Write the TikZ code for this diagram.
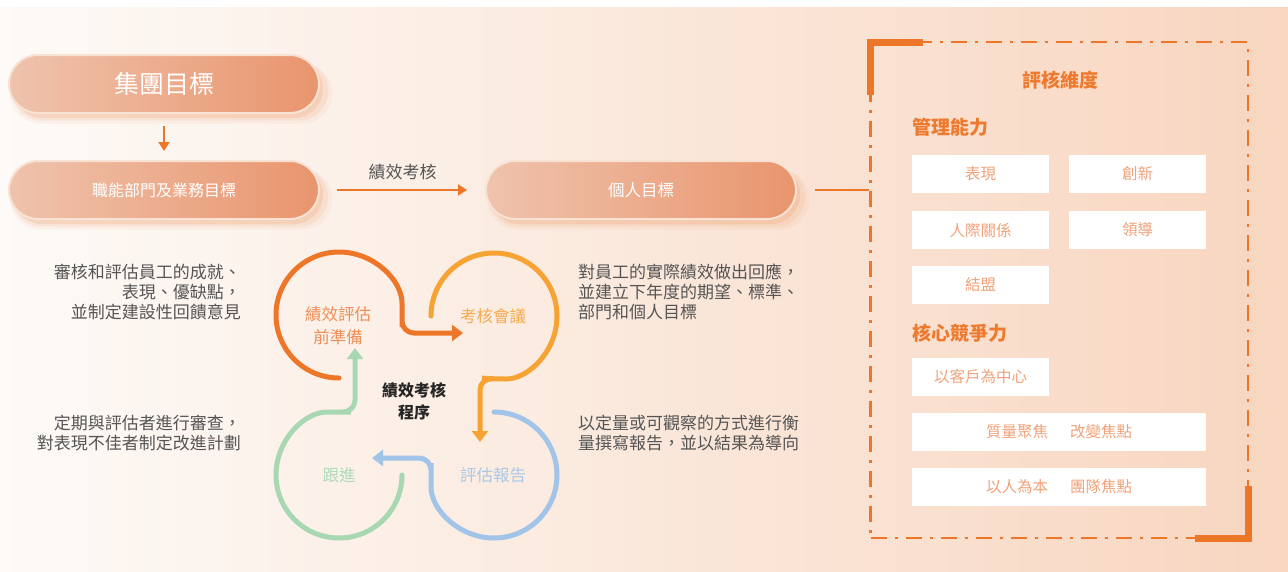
\documentclass[tikz,border=0pt]{standalone}
\usepackage{fontspec}
\setmainfont{Noto Sans CJK TC}
\usetikzlibrary{arrows.meta,shadows}
\definecolor{org}{HTML}{EE7628}
\definecolor{orgtxt}{HTML}{EE7A30}
\definecolor{c1}{HTML}{EE7628}
\definecolor{c1t}{HTML}{EF8E55}
\definecolor{c2}{HTML}{F6A333}
\definecolor{c2t}{HTML}{F5AA4C}
\definecolor{c3}{HTML}{A2C4E8}
\definecolor{c3t}{HTML}{ABC8E8}
\definecolor{c4}{HTML}{A8D8B2}
\definecolor{c4t}{HTML}{AEDBB8}
\definecolor{bgL}{HTML}{FDFAF7}
\definecolor{bgM}{HTML}{FBEADF}
\definecolor{bgR}{HTML}{F8D6C0}
\definecolor{pillL}{HTML}{EFC3AD}
\definecolor{pillM}{HTML}{EBA381}
\definecolor{pillR}{HTML}{E9956D}
\definecolor{pillB}{HTML}{F8E2D4}
\definecolor{pillS}{HTML}{EE9660}
\definecolor{gtxt}{HTML}{555555}
\definecolor{btxt}{HTML}{F0A27A}
\tikzset{
  pill/.style={rounded corners=29pt, minimum height=58pt, minimum width=310pt,
    left color=pillL, middle color=pillM, right color=pillR, draw=pillB, line width=2pt,
    text=white, inner sep=0pt,
    general shadow={shadow xshift=7pt, shadow yshift=-9pt, fill=pillS, opacity=0.08, shadow scale=1.04},
    general shadow={shadow xshift=6pt, shadow yshift=-7pt, fill=pillS, opacity=0.12, shadow scale=1.02},
    general shadow={shadow xshift=4pt, shadow yshift=-5pt, fill=pillS, opacity=0.2}},
  desc/.style={text=gtxt, inner sep=0pt, font=\fontsize{17}{20}\selectfont},
  conn/.style={draw=org, line width=2pt, -{Triangle[length=9pt,width=11pt]}},
  loopline/.style={line width=5pt, rounded corners=12pt, line cap=round, -{Triangle[length=11pt,width=16pt]}},
  looplabel/.style={inner sep=0pt, align=center, font=\fontsize{16.5}{23}\selectfont},
  wbox/.style={fill=white, minimum width=137pt, minimum height=38pt, inner sep=0pt,
    text=btxt, font=\fontsize{15.5}{18}\selectfont},
  heading/.style={text=orgtxt, inner sep=0pt, font=\fontsize{19}{22}\selectfont\bfseries, anchor=west}
}
\begin{document}
\begin{tikzpicture}[x=1pt,y=-1pt]
\useasboundingbox (0,0) rectangle (1288,571);
\fill[white] (0,0) rectangle (1288,571);
\shade[left color=bgL, middle color=bgM, right color=bgR] (0,7) rectangle (1288,571);

% pills
\node[pill, font=\fontsize{25}{28}\selectfont] (p1) at (164,84) {集團目標};
\node[pill, font=\fontsize{16}{19}\selectfont] (p2) at (164,190) {職能部門及業務目標};
\node[pill, font=\fontsize{16.5}{19}\selectfont] (p3) at (641,190) {個人目標};

\draw[conn, shorten <=12pt, shorten >=9pt] (p1.south) -- (p2.north);
\draw[conn, shorten <=17pt, shorten >=18pt] (p2.east) -- node[above=6pt, text=gtxt, font=\fontsize{17}{20}\selectfont] (lbl) {績效考核} (p3.west);

% dimension box
\node[draw=org, line width=2.5pt, dash pattern=on 16pt off 8pt on 3pt off 8pt,
  minimum width=377.5pt, minimum height=496pt, inner sep=0pt] (box) at (1059.25,290) {};
\draw[org, line width=7pt] (923,42) -| (870.5,95);
\draw[org, line width=7pt] (1248,486) |- (1195,538);
\draw[org, line width=2pt, shorten <=18pt] (p3.east) -- (box.west |- p3.east);

\node[text=orgtxt, inner sep=0pt, font=\fontsize{19}{22}\selectfont\bfseries] (t0) at (1060,80) {評核維度};
\node[heading] (h1) at (912,127) {管理能力};
\node[wbox] (b1) at (980.5,174) {表現};
\node[wbox] (b2) at (1137.5,174) {創新};
\node[wbox] (b3) at (980.5,230) {人際關係};
\node[wbox] (b4) at (1137.5,230) {領導};
\node[wbox] (b5) at (980.5,285) {結盟};
\node[heading] (h2) at (912,333) {核心競爭力};
\node[wbox] (b6) at (980.5,377) {以客戶為中心};
\node[wbox, minimum width=294pt] (b7) at (1059,432) {質量聚焦\hspace{22pt}改變焦點};
\node[wbox, minimum width=294pt] (b8) at (1059,487) {以人為本\hspace{22pt}團隊焦點};

% descriptions
\node[desc, align=right, anchor=east] (d1) at (241,292) {審核和評估員工的成就、\\表現、優缺點，\\並制定建設性回饋意見};
\node[desc, align=right, anchor=east] (d2) at (241,433) {定期與評估者進行審查，\\對表現不佳者制定改進計劃};
\node[desc, align=left, anchor=west] (d3) at (578,292) {對員工的實際績效做出回應，\\並建立下年度的期望、標準、\\部門和個人目標};
\node[desc, align=left, anchor=west] (d4) at (578,433) {以定量或可觀察的方式進行衡\\量撰寫報告，並以結果為導向};

% cycle
\draw[loopline, draw=c1] (339,378) arc[start angle=90, end angle=360, radius=63] -- (402,333) -- (463,333);
\draw[loopline, draw=c2] (431,316) arc[start angle=180, end angle=450, radius=63] -- (480,378) -- (480,442);
\draw[loopline, draw=c3] (494,412) arc[start angle=270, end angle=540, radius=63] -- (431,458) -- (372,458);
\draw[loopline, draw=c4] (402,475) arc[start angle=0, end angle=270, radius=63] -- (355,412) -- (355,348);

\node[looplabel, text=c1t] (l1) at (338,326) {績效評估\\前準備};
\node[looplabel, text=c2t] (l2) at (493,316) {考核會議};
\node[looplabel, text=c3t] (l3) at (493,475) {評估報告};
\node[looplabel, text=c4t] (l4) at (339,475) {跟進};
\node[inner sep=0pt, align=center, font=\fontsize{16}{22}\selectfont\bfseries, text=black!85] (ctr) at (414,401) {績效考核\\程序};
\end{tikzpicture}
\end{document}
